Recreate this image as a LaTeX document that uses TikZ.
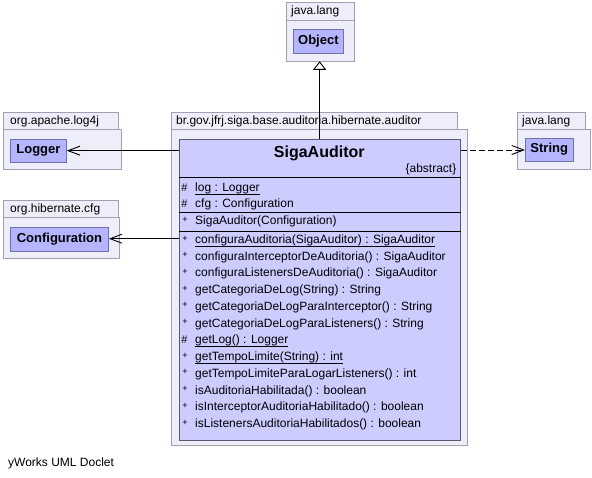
\documentclass[tikz,border=0pt]{standalone}
\usepackage{fontspec}
\setmainfont{Liberation Sans}
\usetikzlibrary{arrows.meta}
\definecolor{pkgfill}{RGB}{238,238,250}
\definecolor{pkgdraw}{RGB}{160,160,176}
\definecolor{smallfill}{RGB}{180,180,255}
\definecolor{smalldraw}{RGB}{112,112,170}
\definecolor{classfill}{RGB}{204,204,255}
\definecolor{classdraw}{RGB}{90,90,120}
\newcommand\myul[1]{\setbox0\hbox{#1}\rlap{\rule[-2.8pt]{\wd0}{0.8pt}}\box0}
\begin{document}
\begin{tikzpicture}[x=1pt,y=-1pt,
  boxbase/.style={rectangle, inner sep=0pt, anchor=north west, line width=0.8pt},
  pkg/.style={boxbase, draw=pkgdraw, fill=pkgfill},
  small/.style={boxbase, draw=smalldraw, fill=smallfill, font=\fontsize{13}{15}\selectfont\bfseries},
  cls/.style={boxbase, draw=classdraw, fill=classfill},
  lbl/.style={anchor=base west, inner sep=0pt, font=\fontsize{12}{14}\selectfont},
  mem/.style={anchor=base west, inner sep=0pt, font=\fontsize{12}{14}\selectfont},
  hashsym/.style={anchor=base, inner sep=0pt, font=\fontsize{11}{12}\selectfont},
  plussym/.style={anchor=base, inner sep=0pt, yshift=2.5pt, font=\fontsize{9}{10}\selectfont},
  sep/.style={line width=0.9pt, black},
  conn/.style={line width=0.9pt, black},
  dep/.style={conn, -{Straight Barb[length=12pt,width=9pt]}},
  gen/.style={conn, -{Triangle[open,length=8.5pt,width=13pt,fill=white]}}
]
\useasboundingbox (0,0) rectangle (592,477);
\fill[white] (0,0) rectangle (592,477);

% java.lang (Object)
\node[pkg, minimum width=68pt, minimum height=17.5pt] (objtab) at (286,2) {};
\node[pkg, minimum width=68pt, minimum height=41pt] (objpkg) at (286,19.5) {};
\node[lbl] (objlbl) at (291,14.8) {java.lang};
\node[small, minimum width=50pt, minimum height=24pt] (objbox) at (293,29) {Object};

% org.apache.log4j (Logger)
\node[pkg, minimum width=115pt, minimum height=17.5pt] (logtab) at (2.5,111.7) {};
\node[pkg, minimum width=118pt, minimum height=39.8pt] (logpkg) at (2.5,129.2) {};
\node[lbl] (loglbl) at (10,124.2) {org.apache.log4j};
\node[small, minimum width=56pt, minimum height=23.5pt] (logbox) at (10,138.5) {Logger};

% org.hibernate.cfg (Configuration)
\node[pkg, minimum width=115pt, minimum height=17.5pt] (cfgtab) at (2.5,199.5) {};
\node[pkg, minimum width=116.5pt, minimum height=41pt] (cfgpkg) at (2.5,217) {};
\node[lbl] (cfglbl) at (10,212) {org.hibernate.cfg};
\node[small, minimum width=98pt, minimum height=24pt] (cfgbox) at (10,226.7) {Configuration};

% java.lang (String)
\node[pkg, minimum width=68.3pt, minimum height=17.5pt] (strtab) at (517,111.7) {};
\node[pkg, minimum width=73pt, minimum height=39.8pt] (strpkg) at (517,129.2) {};
\node[lbl] (strlbl) at (522,124.2) {java.lang};
\node[small, minimum width=47.7pt, minimum height=23.5pt] (strbox) at (525,137.5) {String};

% main package
\node[pkg, minimum width=286pt, minimum height=17.5pt] (maintab) at (170.5,111.7) {};
\node[pkg, minimum width=296.5pt, minimum height=315.8pt] (mainpkg) at (170.5,129.2) {};
\node[lbl] (mainlbl) at (176,124.2) {br.gov.jfrj.siga.base.auditoria.hibernate.auditor};

% class
\node[cls, minimum width=281.5pt, minimum height=301pt] (cls) at (178.5,138.5) {};
\node[anchor=base, inner sep=0pt, font=\fontsize{16}{18}\selectfont\bfseries] (title) at (319.25,157) {SigaAuditor};
\node[anchor=base east, inner sep=0pt, font=\fontsize{12}{14}\selectfont] (abs) at (456.5,172.5) {\{abstract\}};

\draw[sep] (cls.west |- 0,177.7) -- (cls.east |- 0,177.7);
\draw[sep] (cls.west |- 0,212.7) -- (cls.east |- 0,212.7);
\draw[sep] (cls.west |- 0,231) -- (cls.east |- 0,231);

% attributes
\node[hashsym] (s1) at (184.5,191.7) {\#};
\node[mem] (a1) at (195,191.7) {\myul{log : Logger}};
\node[hashsym] (s2) at (184.5,207.7) {\#};
\node[mem] (a2) at (195,207.7) {cfg : Configuration};

% constructor
\node[plussym] (s3) at (185,224.5) {+};
\node[mem] (c1) at (195,224.5) {SigaAuditor(Configuration)};

% methods
\foreach \i/\s/\t in {
  0/+/{\myul{configuraAuditoria(SigaAuditor) : SigaAuditor}},
  1/+/{configuraInterceptorDeAuditoria() : SigaAuditor},
  2/+/{configuraListenersDeAuditoria() : SigaAuditor},
  3/+/{getCategoriaDeLog(String) : String},
  4/+/{getCategoriaDeLogParaInterceptor() : String},
  5/+/{getCategoriaDeLogParaListeners() : String},
  6/\#/{\myul{getLog() : Logger}},
  7/+/{\myul{getTempoLimite(String) : int}},
  8/+/{getTempoLimiteParaLogarListeners() : int},
  9/+/{isAuditoriaHabilitada() : boolean},
  10/+/{isInterceptorAuditoriaHabilitado() : boolean},
  11/+/{isListenersAuditoriaHabilitados() : boolean}} {
  \pgfmathsetmacro\yy{243.5+\i*16.73}
  \ifnum\i=6
    \node[hashsym] (ms\i) at (184.5,\yy) {\s};
  \else
    \node[plussym] (ms\i) at (185,\yy) {\s};
  \fi
  \node[mem] (m\i) at (195,\yy) {\t};
}

% connectors
\draw[gen] (cls.north) -- (cls.north |- objpkg.south);
\draw[dep] (cls.west |- logbox.east) -- (logbox.east);
\draw[dep] (cls.west |- 0,238.7) -- (cfgbox.east |- 0,238.7);
\draw[dep, dash pattern=on 6pt off 3pt] (cls.east |- 0,150) -- (strbox.west |- 0,150);

\node[lbl] (footer) at (8,466) {yWorks UML Doclet};
\end{tikzpicture}
\end{document}
